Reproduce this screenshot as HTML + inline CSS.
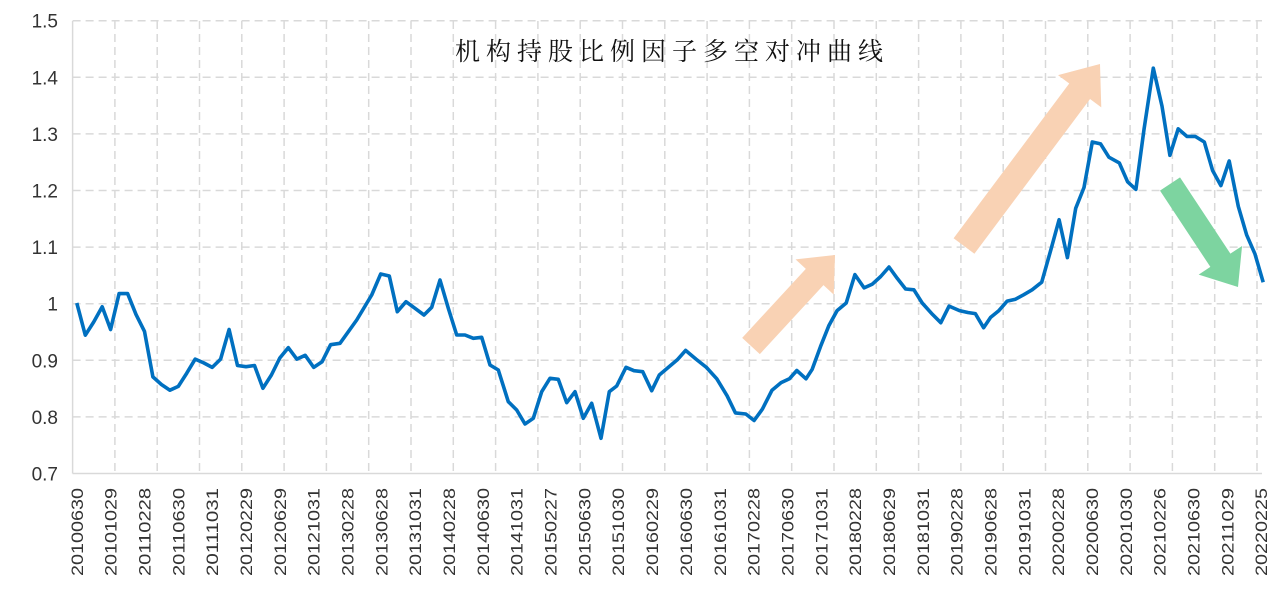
<!DOCTYPE html>
<html><head><meta charset="utf-8"><style>
html,body{margin:0;padding:0;background:#fff;}
svg{display:block;}
</style></head><body>
<svg id="s" width="1287" height="594" xmlns="http://www.w3.org/2000/svg"></svg>
<script>
(function(){
const s=document.getElementById('s');
let h='';
const T=21, B=473.5, L=72.6, R=1262;
const yv=v=>B-(v-0.7)*566;
for(let k=1;k<=8;k++){const y=yv(0.7+k*0.1);h+=`<line x1="${L}" y1="${y}" x2="${R}" y2="${y}" stroke="#d9d9d9" stroke-width="1.5" stroke-dasharray="8,5"/>`;}
for(let k=1;k<=28;k++){const x=L+42.3*k;h+=`<line x1="${x}" y1="${T}" x2="${x}" y2="${B}" stroke="#d9d9d9" stroke-width="1.5" stroke-dasharray="8,5"/>`;}
h+=`<line x1="${L}" y1="${T}" x2="${L}" y2="${B}" stroke="#d9d9d9" stroke-width="1.5"/>`;
h+=`<line x1="${L}" y1="${B}" x2="${R}" y2="${B}" stroke="#d9d9d9" stroke-width="1.5"/>`;
const yl=['0.7','0.8','0.9','1','1.1','1.2','1.3','1.4','1.5'];
yl.forEach((t,k)=>{h+=`<text x="58" y="${yv(0.7+k*0.1)+7}" text-anchor="end" font-family="Liberation Sans, sans-serif" font-size="19" fill="#333">${t}</text>`;});
const names=["20100630","20101029","20110228","20110630","20111031","20120229","20120629","20121031","20130228","20130628","20131031","20140228","20140630","20141031","20150227","20150630","20151030","20160229","20160630","20161031","20170228","20170630","20171031","20180228","20180629","20181031","20190228","20190628","20191031","20200228","20200630","20201030","20210226","20210630","20211029","20220225"];
names.forEach((t,k)=>{const x=76.8+4*k*8.46+6;h+=`<text transform="translate(${x},488) rotate(-90)" text-anchor="end" font-family="Liberation Sans, sans-serif" font-size="17" textLength="88" lengthAdjust="spacingAndGlyphs" fill="#333">${t}</text>`;});
function arrow(tx,ty,hx,hy,sw,hw,hl,col){
 const dx=hx-tx,dy=hy-ty,len=Math.hypot(dx,dy),ux=dx/len,uy=dy/len,px=-uy,py=ux;
 const bx=hx-ux*hl,by=hy-uy*hl;
 const p=[[tx+px*sw/2,ty+py*sw/2],[bx+px*sw/2,by+py*sw/2],[bx+px*hw/2,by+py*hw/2],[hx,hy],[bx-px*hw/2,by-py*hw/2],[bx-px*sw/2,by-py*sw/2],[tx-px*sw/2,ty-py*sw/2]];
 return `<polygon points="${p.map(a=>a.join(',')).join(' ')}" fill="${col}"/>`;
}
h+=arrow(751,346,835,255,24,52,30,'#f9d2b4');
h+=arrow(964,246,1100,64,26,54,34,'#f9d2b4');
h+=arrow(1170,184,1238,287,24,52,32,'#7dd4a0');
const pts=[];
const z1=[800,885,850,810,870,775,775,830,875,995,1015,1030,1020,985,948,958,970,948,870,965,968,965,1025,990,945,918,948,938,970,955,910];
z1.forEach((z,i)=>pts.push([76.8+i*8.46,z/2.64]));
const z3=[[0,280],[50,210],[95,135],[122,72],[148,78],[172,185],[198,155],[225,175],[252,195],[275,172],[300,90],[325,175],[350,255],[375,255],[400,265],[425,262],[450,345],[475,360],[505,455],[530,480],[555,522],[580,505],[605,425],[630,385],[655,388],[680,458],[705,425],[730,505],[755,460],[783,565],[808,425],[830,408],[858,352],[882,362],[908,365],[935,422],[958,375]];
z3.forEach(p=>pts.push([340+p[0]/3,250+p[1]/3]));
const z2=[[90,950],[110,925],[135,948],[160,970],[185,1000],[210,1045],[230,1090],[255,1093],[275,1110],[295,1080],[318,1030],[340,1010],[360,1000],[378,978],[400,1000],[415,975],[435,915],[455,860],[475,820],[497,800],[518,725],[540,760],[560,750],[580,730],[600,705],[620,735],[640,763],[660,765],[680,800],[705,830],[725,852],[745,808],[770,820],[790,825],[808,828],[828,865],[845,838],[865,820],[885,795],[905,790],[925,778],[945,765],[968,745],[990,660],[1010,580],[1030,680],[1050,550],[1070,495],[1090,375],[1110,380],[1130,415],[1155,430],[1175,480],[1195,500],[1215,340],[1237,180],[1258,280],[1277,410],[1297,340],[1318,360],[1338,360],[1360,375],[1380,450],[1400,490],[1420,425],[1442,545],[1462,620],[1482,670],[1502,745]];
z2.forEach(p=>pts.push([640+p[0]/2.41,p[1]/2.64]));
h+=`<polyline points="${pts.map(p=>p[0].toFixed(1)+','+p[1].toFixed(1)).join(' ')}" fill="none" stroke="#0070c0" stroke-width="3.6" stroke-linejoin="round"/>`;
h+=`<text x="455" y="60" font-family="Liberation Serif, Noto Serif CJK SC, serif" font-size="25" letter-spacing="6" fill="#111">机构持股比例因子多空对冲曲线</text>`;
s.innerHTML=h;
})();
</script>
</body></html>
